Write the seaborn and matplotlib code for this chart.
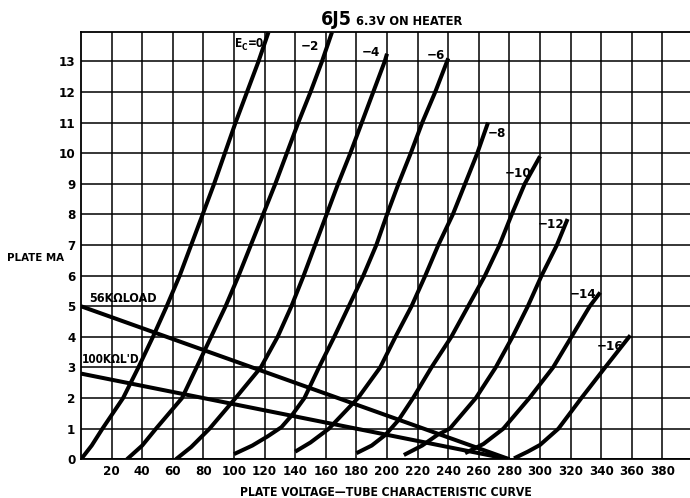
import matplotlib
matplotlib.use("Agg")
import matplotlib.pyplot as plt
import pandas as pd
import seaborn as sns

# Plate characteristic curves of the 6J5 triode: plate volts vs plate mA,
# one curve per grid bias.
ec0_v = [0, 7, 14, 27.5, 37.5, 47, 56, 64.5, 72, 79.5, 87, 94, 101, 108.5, 116, 122.5]
ec0_ma = [0, 0.45, 1, 2, 3, 4, 5, 6, 7, 8, 9, 10, 11, 12, 13, 13.95]

ec2_v = [30, 40, 49, 66, 75.5, 85, 94.5, 103, 111, 119, 127, 134.5, 142, 150, 157.5, 164]
ec2_ma = [0, 0.45, 1, 2, 3, 4, 5, 6, 7, 8, 9, 10, 11, 12, 13, 13.95]

ec4_v = [62, 72, 84, 101, 117.5, 128.5, 137.5, 145.5, 153, 160.5, 168, 176, 183.5, 191, 198.5, 200]
ec4_ma = [0, 0.4, 1, 2, 3, 4, 5, 6, 7, 8, 9, 10, 11, 12, 13, 13.25]

ec6_v = [100, 112, 122, 131, 138, 146, 155.5, 165.5, 175, 184.5, 193, 200, 207.5, 215.5, 223, 231.5, 240]
ec6_ma = [0.17, 0.45, 0.75, 1.05, 1.45, 2, 3, 4, 5, 6, 7, 8, 9, 10, 11, 12, 13.1]

ec8_v = [140, 150, 162, 181, 195.5, 205.5, 216, 225, 233.5, 243, 251, 259, 266]
ec8_ma = [0.25, 0.55, 1, 2, 3, 4, 5, 6, 7, 8, 9, 10, 11]

ec10_v = [180, 190, 199, 207.5, 217, 229, 242, 253, 264, 273.5, 281.5, 290, 300]
ec10_ma = [0.2, 0.45, 0.8, 1.28, 2, 3, 4, 5, 6, 7, 8, 9, 9.9]

ec12_v = [211, 223, 233, 241, 258, 271, 282, 292, 301, 311, 318]
ec12_ma = [0.14, 0.45, 0.8, 1, 2, 3, 4, 5, 6, 7, 7.85]

ec14_v = [251, 263, 276, 293, 308.5, 320.5, 332.5, 339.3]
ec14_ma = [0.2, 0.5, 1, 2, 3, 4, 5, 5.45]

ec16_v = [283, 292, 300, 312, 327, 342.5, 359]
ec16_ma = [0.03, 0.25, 0.47, 1, 2, 3, 4.05]

grid_bias = [0, -2, -4, -6, -8, -10, -12, -14, -16]

# Load lines (plate supply 280 V)
load_56k_v = [0, 280]
load_56k_ma = [5.0, 0.0]
load_100k_v = [0, 280]
load_100k_ma = [2.8, 0.0]

x_ticks = list(range(20, 381, 20))
y_ticks = list(range(0, 14))

curve_v = [ec0_v, ec2_v, ec4_v, ec6_v, ec8_v, ec10_v, ec12_v, ec14_v, ec16_v]
curve_ma = [ec0_ma, ec2_ma, ec4_ma, ec6_ma, ec8_ma, ec10_ma, ec12_ma, ec14_ma, ec16_ma]
curves = pd.concat(
    [pd.DataFrame({"plate_v": v, "plate_ma": m, "bias": b})
     for v, m, b in zip(curve_v, curve_ma, grid_bias)],
    ignore_index=True,
)
loads = pd.concat(
    [pd.DataFrame({"plate_v": load_56k_v, "plate_ma": load_56k_ma, "load": "56K"}),
     pd.DataFrame({"plate_v": load_100k_v, "plate_ma": load_100k_ma, "load": "100K"})],
    ignore_index=True,
)

sns.set_theme(style="white")
plt.rcParams["font.family"] = ["DejaVu Sans"]
plt.rcParams["font.stretch"] = "condensed"
plt.rcParams["font.weight"] = "bold"
for key in ["text.color", "axes.labelcolor", "xtick.color", "ytick.color"]:
    plt.rcParams[key] = "black"

fig = plt.figure(figsize=(6.9, 4.98), dpi=100)
ax = fig.add_axes([81 / 690, 1 - 459.3 / 498, 1 - 81 / 690, (459.3 - 32.3) / 498])

line_kw = dict(color="black", linewidth=2.9, estimator=None, sort=False,
               legend=False, ax=ax, solid_capstyle="butt")
sns.lineplot(data=curves, x="plate_v", y="plate_ma", units="bias", **line_kw)
sns.lineplot(data=loads, x="plate_v", y="plate_ma", units="load", **line_kw)

ax.set_xlim(0, 398)
ax.set_ylim(0, 13.95)
ax.set_xticks(x_ticks)
ax.set_yticks(y_ticks)
ax.tick_params(length=0, labelsize=9.5, pad=4)
ax.grid(True, color="black", linewidth=1.1)
ax.set_axisbelow(True)
for side in ["left", "bottom", "top"]:
    ax.spines[side].set_color("black")
    ax.spines[side].set_linewidth(1.3)
ax.spines["right"].set_visible(False)

ax.set_xlabel("PLATE VOLTAGE—TUBE CHARACTERISTIC CURVE", fontsize=8.7,
              fontweight="bold", labelpad=6)
ax.set_ylabel("PLATE MA", rotation=0, fontsize=8.2, fontweight="bold",
              ha="left", va="center")
ax.yaxis.set_label_coords(-0.122, 0.4714)

# Title: tube type plus heater note
fig.text(352 / 690, 1 - 25 / 498, "6J5", fontsize=14, fontweight="bold",
         ha="right", va="baseline")
fig.text(356 / 690, 1 - 25 / 498, "6.3V ON HEATER", fontsize=9.2,
         fontweight="bold", ha="left", va="baseline")

# Zero-bias label: "E" with a lowered small "C", then "=0"
ax.text(100.5, 13.6, "E", fontsize=8.5, fontweight="bold", ha="left", va="center")
ax.text(105.3, 13.45, "C", fontsize=6, fontweight="bold", ha="left", va="center")
ax.text(108.8, 13.6, "=0", fontsize=8.5, fontweight="bold", ha="left", va="center")

bias_text = ["−2", "−4", "−6", "−8", "−10", "−12", "−14", "−16"]
bias_pos = [(149.7, 13.5), (189.5, 13.28), (232, 13.2),
            (272, 10.66), (285.6, 9.35), (307.5, 7.66), (327.8, 5.37),
            (345.7, 3.68)]
for txt, (x, y) in zip(bias_text, bias_pos):
    ax.text(x, y, txt, fontsize=9.5, fontweight="bold", ha="center", va="center")

ax.text(27.7, 5.26, "56KΩLOAD", fontsize=9, fontweight="bold",
        ha="center", va="center")
ax.text(0.6, 3.25, "100KΩL'D", fontsize=8.5, fontweight="bold",
        ha="left", va="center")

fig.savefig("out.png", dpi=100)
